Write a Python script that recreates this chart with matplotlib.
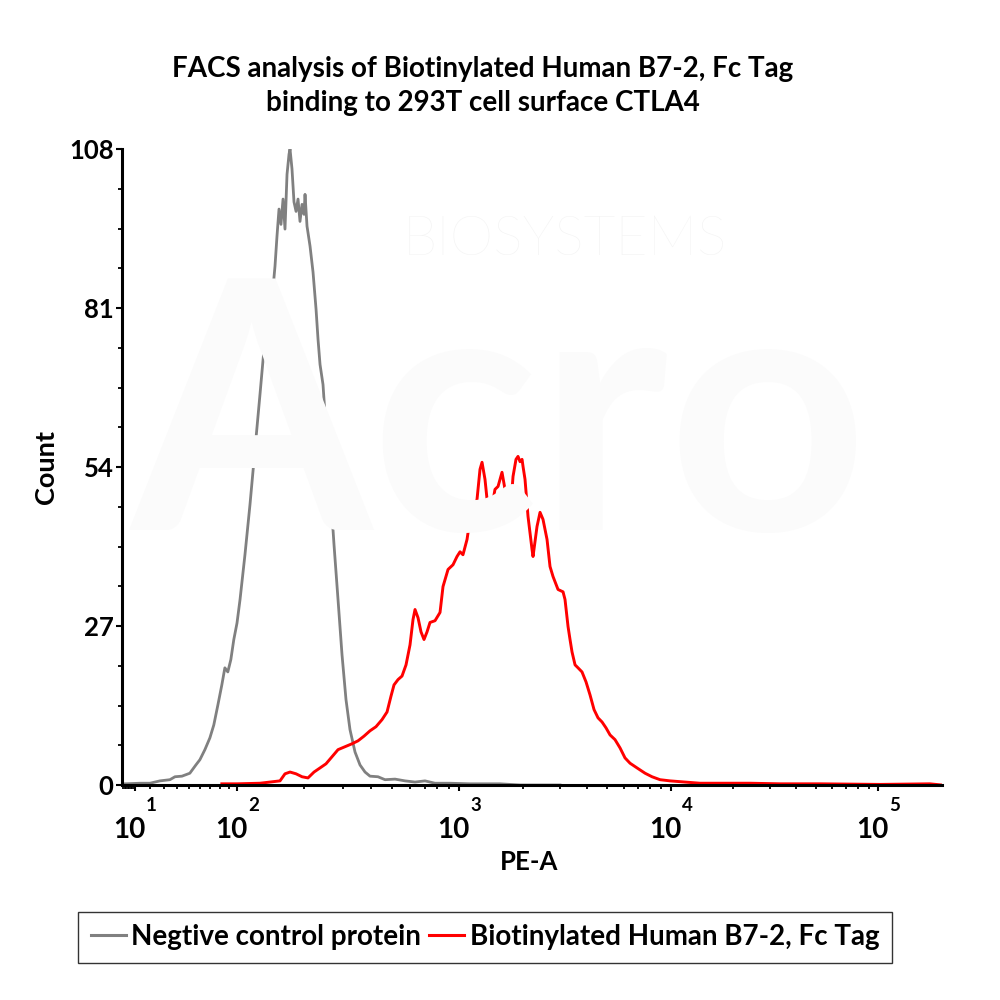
import numpy as np
import matplotlib
matplotlib.use("Agg")
import matplotlib.pyplot as plt

plt.rcParams['font.family'] = ['Lato', 'DejaVu Sans']

# ---- data (PE-A intensity, count) ----
neg_x = [3.3, 13.4, 20.2, 27.3, 34.7, 38.6, 44.2, 50.8, 56.1, 59.8, 64.5, 69.4, 73.4, 77.7,
         82.0, 85.4, 88.8, 92.4, 96.0, 100, 103.2, 108.6, 114.4, 120.5, 126.9, 132.3, 137.9,
         143.8, 148.3, 151.4, 154.6, 157.8, 161.2, 164.5, 168.0, 171.5, 173.3, 176.9, 180.6,
         184.5, 188.3, 192.2, 196.3, 200.4, 202.5, 206.7, 213.3, 220.0, 227.0, 231.7, 236.6,
         244.0, 251.7, 262.4, 273.5, 285.1, 297.2, 309.7, 322.8, 340.1, 358.2, 377.3, 397.2,
         431.6, 464.2, 514.9, 571.2, 633.7, 702.9, 779.7, 911.1, 1127, 1561, 1940, 2995]
neg_y = [0.2, 0.3, 0.3, 0.7, 0.9, 1.4, 1.5, 2.0, 3.4, 4.3, 6.0, 8.0, 10.2, 13.6,
         17.0, 19.9, 19.2, 21.3, 24.7, 27.5, 31.5, 39.1, 47.6, 57.0, 66.3, 74.0, 79.1,
         82.5, 88.1, 93.2, 97.8, 95.2, 99.5, 94.4, 103.7, 107.1, 108.0, 104.6, 99.0,
         97.4, 99.5, 95.7, 98.6, 96.9, 100.3, 94.9, 91.5, 87.1, 80.8, 75.7, 71.4,
         68.0, 60.4, 51.0, 40.8, 31.5, 22.1, 14.5, 9.4, 5.6, 3.4, 2.2, 1.5,
         1.4, 0.9, 1.0, 0.7, 0.5, 0.7, 0.3, 0.3, 0.2, 0.2, 0.0, 0.0]

b72_x = [82.0, 100, 126.9, 156.2, 164.5, 173.3, 184.5, 196.3, 208.8, 222.3, 236.6, 251.7,
         267.9, 285.1, 306.5, 329.6, 350.8, 373.4, 397.2, 422.7, 450.0, 474.0, 494.0, 509.6,
         531.2, 553.7, 577.2, 601.6, 620.6, 633.7, 653.7, 674.3, 695.6, 717.6, 740.2, 779.7,
         821.2, 847.1, 892.4, 939.7, 979.5, 1011, 1044, 1091, 1127, 1164, 1216, 1256, 1284,
         1326, 1356, 1385, 1431, 1478, 1528, 1595, 1648, 1703, 1740, 1798, 1857, 1898, 1940,
         1983, 2004, 2048, 2116, 2210, 2234, 2333, 2411, 2490, 2601, 2687, 2776, 2931, 3095,
         3162, 3268, 3339, 3412, 3526, 3641, 3803, 3973, 4149, 4334, 4526, 4727, 4936, 5157,
         5443, 5747, 6067, 6406, 6913, 7542, 8136, 8876, 9893, 11684, 13806, 19275, 24080,
         33620, 52450, 102250, 178000, 203000]
b72_y = [0.2, 0.2, 0.3, 0.7, 1.9, 2.2, 1.9, 1.4, 1.2, 2.2, 2.9, 3.6,
         4.8, 6.0, 6.5, 7.0, 7.5, 8.3, 9.2, 9.9, 11.1, 12.4, 15.1, 17.0,
         17.9, 18.5, 20.4, 23.8, 28.1, 29.8, 28.4, 26.0, 24.7, 26.0, 27.6, 27.9,
         29.3, 33.7, 36.6, 37.4, 38.8, 39.6, 39.1, 41.7, 45.1, 45.6, 48.5, 53.6, 54.8,
         51.9, 48.5, 45.1, 47.3, 50.2, 50.7, 53.1, 50.2, 46.3, 45.6, 52.4, 55.3, 55.8, 54.9,
         55.3, 54.1, 51.9, 45.6, 40.0, 38.8, 43.9, 46.3, 45.1, 41.7, 37.1, 35.4, 33.2, 32.8,
         31.5, 26.9, 24.7, 22.6, 20.4, 19.9, 19.2, 17.5, 15.3, 12.8, 11.4, 10.7, 9.7, 8.5,
         7.7, 6.3, 4.6, 3.7, 2.9, 2.0, 1.4, 0.9, 0.7, 0.5, 0.3, 0.3, 0.3,
         0.2, 0.2, 0.1, 0.2, 0.0]

y_ticks = [0, 27, 54, 81, 108]
decades = [1, 2, 3, 4, 5]
labels = ["Negtive control protein", "Biotinylated Human B7-2, Fc Tag"]

# ---- biexponential-like display scale of the cytometer ----
C = 61.0
A100 = np.arcsinh(100 / C)
H_anch = [-2.0, 2 - A100, 2 - A100 + np.arcsinh(10 / C), 2, 3, 4, 5, 8]
P_anch = [-131, 120, 135, 237, 459, 671, 878, 1499]


def fwd(v):
    v = np.asarray(v, dtype=float)
    h = np.where(v >= 100, np.log10(np.maximum(v, 100)), 2 + np.arcsinh(v / C) - A100)
    return np.interp(h, H_anch, P_anch)


def inv(p):
    h = np.interp(np.asarray(p, dtype=float), P_anch, H_anch)
    return np.where(h >= 2, 10 ** np.minimum(h, 8), C * np.sinh(h - 2 + A100))


fig = plt.figure(figsize=(10, 10), dpi=100)

# faint watermark
fig.text(0.565, 0.76, "BIOSYSTEMS", fontsize=40, color="#f3f3f3", ha="center", va="center",
         fontweight="light", zorder=0)
fig.text(0.50, 0.57, "Acro", fontsize=250, color="#fbfbfb", ha="center", va="center",
         fontweight="bold", zorder=0)

ax = fig.add_axes([0.122, 0.215, 0.82, 0.636])
ax.patch.set_alpha(0)
ax.set_xscale("function", functions=(fwd, inv))

ax.plot(neg_x, neg_y, color="#808080", lw=2.0, label=labels[0])
ax.plot(b72_x, b72_y, color="#ff0000", lw=2.1, label=labels[1])

ax.set_xlim(1.33, 203700)
ax.set_ylim(0, 108)

for s in ["top", "right"]:
    ax.spines[s].set_visible(False)
for s in ["left", "bottom"]:
    ax.spines[s].set_linewidth(2.2)

ax.set_yticks(y_ticks)
ax.set_yticks(np.arange(0, 108.1, 6.75), minor=True)
ax.set_yticklabels([str(t) for t in y_ticks], fontsize=18.5, fontweight="bold")
ax.tick_params(axis="y", which="major", length=4, width=1.5, pad=2)
ax.tick_params(axis="y", which="minor", length=3, width=1.3)

ax.set_xticks([10 ** e for e in decades])
minors = [m * 10 ** e for e in range(0, 6) for m in range(2, 10) if m * 10 ** e < 200000]
ax.set_xticks(minors, minor=True)
ax.set_xticklabels([])
ax.tick_params(axis="x", which="major", length=4, width=1.5)
ax.tick_params(axis="x", which="minor", length=3, width=1.3)

for e in decades:
    ax.annotate("10", xy=(10 ** e, 0), xycoords=("data", "axes fraction"),
                xytext=(-4.3, -32.5), textcoords="offset points", ha="center", va="center",
                fontsize=20, fontweight="bold")
    ax.annotate(str(e), xy=(10 ** e, 0), xycoords=("data", "axes fraction"),
                xytext=(8, -15), textcoords="offset points", ha="left", va="center",
                fontsize=13.5, fontweight="bold")

fig.text(0.529, 0.138, "PE-A", fontsize=18.5, fontweight="bold", ha="center", va="center")
fig.text(0.046, 0.533, "Count", fontsize=19.5, fontweight="bold", ha="center", va="center",
         rotation=90)
fig.text(0.483, 0.914, "FACS analysis of Biotinylated Human B7-2, Fc Tag\nbinding to 293T cell surface CTLA4",
         fontsize=20, fontweight="bold", ha="center", va="center", linespacing=1.42)

leg = fig.legend(loc="center", bbox_to_anchor=(0.485, 0.063), ncol=2,
                 prop={"weight": "bold", "size": 20}, frameon=True, fancybox=False,
                 edgecolor="black", handlelength=1.25, handletextpad=0.2, columnspacing=0.3,
                 borderpad=0.45, borderaxespad=0)
leg.get_frame().set_linewidth(1.0)
for line in leg.get_lines():
    line.set_linewidth(2.2)

fig.savefig("out.png", dpi=100, facecolor="white")
